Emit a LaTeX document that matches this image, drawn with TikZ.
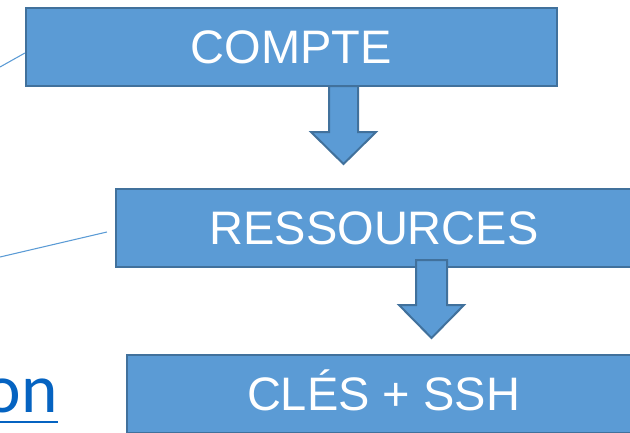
\documentclass[tikz,border=0pt]{standalone}
\usepackage{fontspec}
\setmainfont{Liberation Sans}
\newfontfamily\linkfont{Carlito}
\definecolor{boxfill}{HTML}{5B9BD5}
\definecolor{boxedge}{HTML}{41719C}
\definecolor{linkblue}{HTML}{0563C1}
\tikzset{
  stagebox/.style={rectangle, fill=boxfill, draw=boxedge, line width=1.6pt,
    minimum height=58.5pt, inner sep=0pt, text=white,
    font=\fontsize{35.25}{40}\selectfont, text height=25.2pt, text depth=0pt},
  blockarrow/.style={fill=boxfill, draw=boxedge, line width=1.5pt, line join=miter},
  callout/.style={draw=boxfill, line width=0.8pt},
  linktext/.style={text=linkblue, inner sep=0pt, font=\linkfont\fontsize{52}{60}\selectfont},
}
\begin{document}
\begin{tikzpicture}[x=0.75pt, y=-0.75pt]
\useasboundingbox (0,0) rectangle (630,432);
\clip (0,0) rectangle (630,432);

% the three stages
\node[stagebox, minimum width=398.25pt] (compte) at (291.5,47) {COMPTE};
\node[stagebox, minimum width=387pt] (res) at (374,228) {RESSOURCES};
\node[stagebox, minimum width=384.75pt] (cles) at (383.5,394) {CLÉS + SSH};

% block arrow from COMPTE down to RESSOURCES
\coordinate (a1) at (343.5,86);
\draw[blockarrow] (a1) ++(-14.5,0) -- ++(0,46) -- ++(-18,0) -- (343.5,164)
  -- (376,132) -- (358,132) -- (358,86) -- cycle;

% block arrow from RESSOURCES down to CLÉS + SSH
\coordinate (a2) at (431.5,260);
\draw[blockarrow] (a2) ++(-15.5,0) -- ++(0,45) -- ++(-17,0) -- (431.5,338)
  -- (464,305) -- (447,305) -- (447,260) -- cycle;

% callout lines coming in from the left
\coordinate (l1) at (0,67);
\coordinate (l2) at (0,257);
\draw[callout] (l1) -- ([yshift=-4.5pt]compte.west);
\draw[callout] (l2) -- ([xshift=-6pt,yshift=-3pt]res.west);

% hyperlink text, underlined
\node[linktext, anchor=base east] (link) at (58,412) {on};
\draw[draw=linkblue, line width=2.2pt] (0,422) -- (link.east |- 0,422);
\end{tikzpicture}
\end{document}
